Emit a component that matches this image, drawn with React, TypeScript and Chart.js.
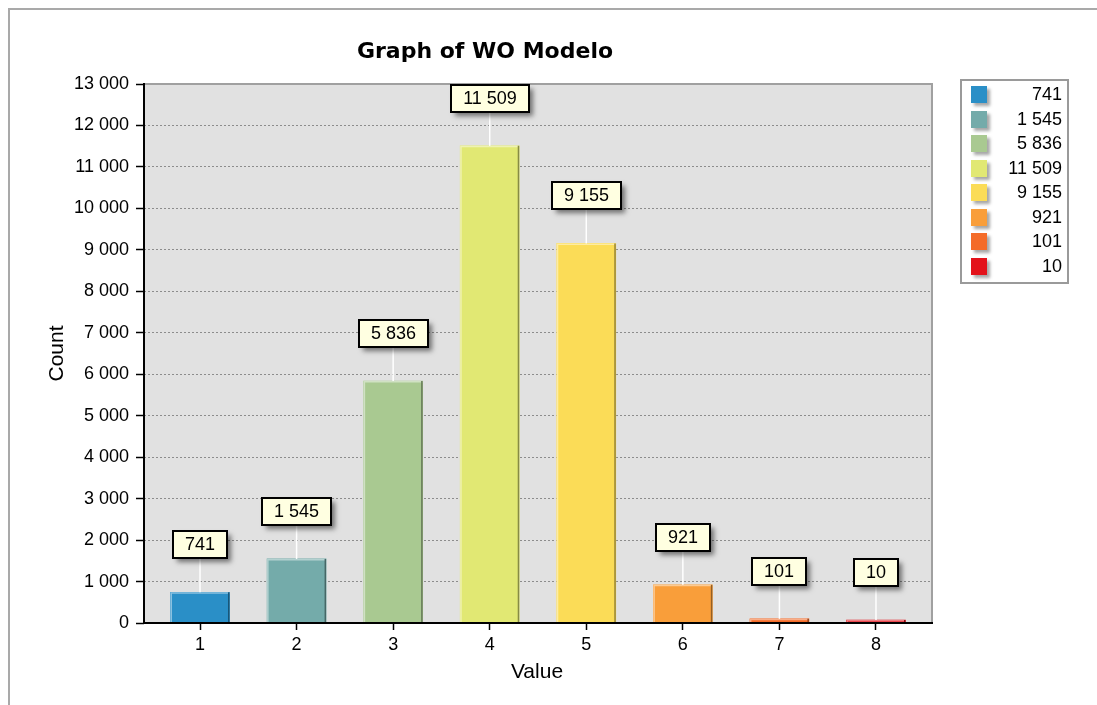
import React, { useEffect, useRef } from 'react';
import { Chart, registerables } from 'chart.js';

Chart.register(...registerables);

const categories = [1, 2, 3, 4, 5, 6, 7, 8];
const counts = [741, 1545, 5836, 11509, 9155, 921, 101, 10];
const yTicks = [0, 1000, 2000, 3000, 4000, 5000, 6000, 7000, 8000, 9000, 10000, 11000, 12000, 13000];
const colors = ['#2a8fc7', '#74abaa', '#a9c991', '#e1e873', '#fbdc57', '#f99e3a', '#f46b28', '#e3121a'];
const titleText = 'Graph of WO Modelo';
const xTitle = 'Value';
const yTitle = 'Count';

const FONT = '"Liberation Sans", Arial, sans-serif';

const fmt = (v: number) => String(v).replace(/\B(?=(\d{3})+(?!\d))/g, ' ');

function shade(hex: string, f: number): string {
  const n = parseInt(hex.slice(1), 16);
  let r = (n >> 16) & 255, g = (n >> 8) & 255, b = n & 255;
  if (f >= 0) {
    r = Math.round(r + (255 - r) * f);
    g = Math.round(g + (255 - g) * f);
    b = Math.round(b + (255 - b) * f);
  } else {
    r = Math.round(r * (1 + f));
    g = Math.round(g * (1 + f));
    b = Math.round(b * (1 + f));
  }
  return `rgb(${r},${g},${b})`;
}

const decor = {
  id: 'decor',
  beforeDraw(chart: any) {
    const { ctx, chartArea: a } = chart;
    ctx.save();
    ctx.fillStyle = '#e1e1e1';
    ctx.fillRect(a.left, a.top, a.right - a.left, a.bottom - a.top);
    ctx.restore();
  },
  afterDatasetsDraw(chart: any) {
    const { ctx, chartArea: a } = chart;
    const meta = chart.getDatasetMeta(0);
    ctx.save();
    // bevels
    meta.data.forEach((el: any, i: number) => {
      const { x, y, base, width } = el.getProps(['x', 'y', 'base', 'width'], true);
      const l = x - width / 2;
      const r = x + width / 2;
      const c = colors[i];
      ctx.lineWidth = 1.5;
      ctx.strokeStyle = shade(c, 0.45);
      ctx.beginPath();
      ctx.moveTo(l + 0.75, base);
      ctx.lineTo(l + 0.75, y + 0.75);
      ctx.lineTo(r, y + 0.75);
      ctx.stroke();
      ctx.lineWidth = 1.5;
      ctx.strokeStyle = shade(c, -0.4);
      ctx.beginPath();
      ctx.moveTo(r - 0.75, y);
      ctx.lineTo(r - 0.75, base);
      ctx.stroke();
    });
    // plot frame
    ctx.lineWidth = 2;
    ctx.strokeStyle = '#a0a0a0';
    ctx.beginPath();
    ctx.moveTo(a.left, a.top);
    ctx.lineTo(a.right, a.top);
    ctx.lineTo(a.right, a.bottom);
    ctx.stroke();
    ctx.strokeStyle = '#000';
    ctx.beginPath();
    ctx.moveTo(a.left, a.top - 1);
    ctx.lineTo(a.left, a.bottom);
    ctx.lineTo(a.right + 1, a.bottom);
    ctx.stroke();
    // connectors and value boxes
    ctx.font = `18px ${FONT}`;
    meta.data.forEach((el: any, i: number) => {
      const { x, y } = el.getProps(['x', 'y'], true);
      const boxBottom = y - 34;
      ctx.strokeStyle = '#ffffff';
      ctx.lineWidth = 1.5;
      ctx.beginPath();
      ctx.moveTo(x, y);
      ctx.lineTo(x, boxBottom);
      ctx.stroke();
      const txt = fmt(counts[i]);
      const w = Math.round(ctx.measureText(txt).width + 24);
      const h = 27;
      const bx = Math.round(x - w / 2);
      const by = Math.round(boxBottom - h);
      ctx.save();
      ctx.shadowColor = 'rgba(0,0,0,0.5)';
      ctx.shadowBlur = 5;
      ctx.shadowOffsetX = 4;
      ctx.shadowOffsetY = 4;
      ctx.fillStyle = '#ffffe1';
      ctx.fillRect(bx, by, w, h);
      ctx.restore();
      ctx.lineWidth = 2;
      ctx.strokeStyle = '#000';
      ctx.strokeRect(bx, by, w, h);
      ctx.fillStyle = '#000';
      ctx.textAlign = 'center';
      ctx.textBaseline = 'middle';
      ctx.fillText(txt, bx + w / 2, by + h / 2 + 1);
    });
    ctx.restore();
  },
  afterDraw(chart: any) {
    const { ctx, chartArea: a } = chart;
    ctx.save();
    ctx.fillStyle = '#000';
    // title
    ctx.font = `bold 22px "DejaVu Sans", ${FONT}`;
    ctx.textAlign = 'center';
    ctx.textBaseline = 'alphabetic';
    ctx.fillText(titleText, 475, 48);
    // axis titles
    ctx.font = `21px ${FONT}`;
    ctx.fillText(xTitle, (a.left + a.right) / 2 - 1, 668);
    ctx.save();
    ctx.translate(53, (a.top + a.bottom) / 2);
    ctx.rotate(-Math.PI / 2);
    ctx.fillText(yTitle, 0, 0);
    ctx.restore();
    // legend
    const lx = 951, ly = 70, lw = 107, lh = 203;
    ctx.fillStyle = '#ffffff';
    ctx.fillRect(lx, ly, lw, lh);
    ctx.lineWidth = 2;
    ctx.strokeStyle = '#9a9a9a';
    ctx.strokeRect(lx, ly, lw, lh);
    ctx.font = `18px ${FONT}`;
    ctx.textAlign = 'right';
    ctx.textBaseline = 'middle';
    counts.forEach((v, i) => {
      const cy = 84 + i * 24.57;
      ctx.save();
      ctx.shadowColor = 'rgba(0,0,0,0.35)';
      ctx.shadowBlur = 3;
      ctx.shadowOffsetX = 3;
      ctx.shadowOffsetY = 3;
      ctx.fillStyle = colors[i];
      ctx.fillRect(961, Math.round(cy - 8), 16, 17);
      ctx.restore();
      ctx.fillStyle = '#000';
      ctx.fillText(fmt(v), 1052, cy + 1);
    });
    ctx.restore();
  },
};

export default function App() {
  const ref = useRef<HTMLCanvasElement>(null);
  useEffect(() => {
    const canvas = ref.current!;
    Chart.defaults.font.family = FONT;
    Chart.defaults.color = '#000';
    const chart = new Chart(canvas, {
      type: 'bar',
      data: {
        datasets: [
          {
            data: categories.map((c, i) => ({ x: c, y: counts[i] })),
            backgroundColor: colors,
            borderWidth: 0,
            barThickness: 59,
            minBarLength: 3,
          } as any,
        ],
      },
      options: {
        responsive: false,
        animation: false,
        events: [],
        layout: { padding: { left: 0, top: 74, right: 165, bottom: 0 } },
        plugins: {
          legend: { display: false },
          title: { display: false },
          tooltip: { enabled: false },
        },
        scales: {
          x: {
            type: 'linear',
            min: 0.42,
            max: 8.58,
            offset: false,
            afterBuildTicks: (s: any) => {
              s.ticks = categories.map((v) => ({ value: v }));
            },
            afterFit: (s: any) => {
              s.height = 82;
            },
            grid: { offset: false, drawOnChartArea: false, tickLength: 7, tickColor: '#000', tickWidth: 1.5 },
            border: { display: false },
            ticks: {
              color: '#000',
              font: { size: 18, family: FONT },
              padding: 4,
              maxRotation: 0,
              autoSkip: false,
              callback: (v: any) => String(v),
            },
          },
          y: {
            min: 0,
            max: 13000,
            afterBuildTicks: (s: any) => {
              s.ticks = yTicks.map((v) => ({ value: v }));
            },
            afterFit: (s: any) => {
              s.width = 134;
            },
            grid: { color: '#8c8c8c', lineWidth: 1, tickLength: 8, tickColor: '#000', tickWidth: 1.5, tickBorderDash: [] },
            border: { display: false, dash: [2, 2] },
            ticks: {
              color: '#000',
              font: { size: 18, family: FONT },
              padding: 7,
              callback: (v: any) => fmt(Number(v)),
            },
          },
        } as any,
      },
      plugins: [decor],
    });
    return () => chart.destroy();
  }, []);
  return (
    <div
      style={{
        position: 'fixed',
        left: 8,
        top: 8,
        width: 1200,
        height: 800,
        borderTop: '2px solid #a9a9a9',
        borderLeft: '2px solid #a9a9a9',
        background: '#fff',
      }}
    >
      <canvas ref={ref} width={1087} height={695} style={{ display: 'block', width: 1087, height: 695 }} />
    </div>
  );
}
